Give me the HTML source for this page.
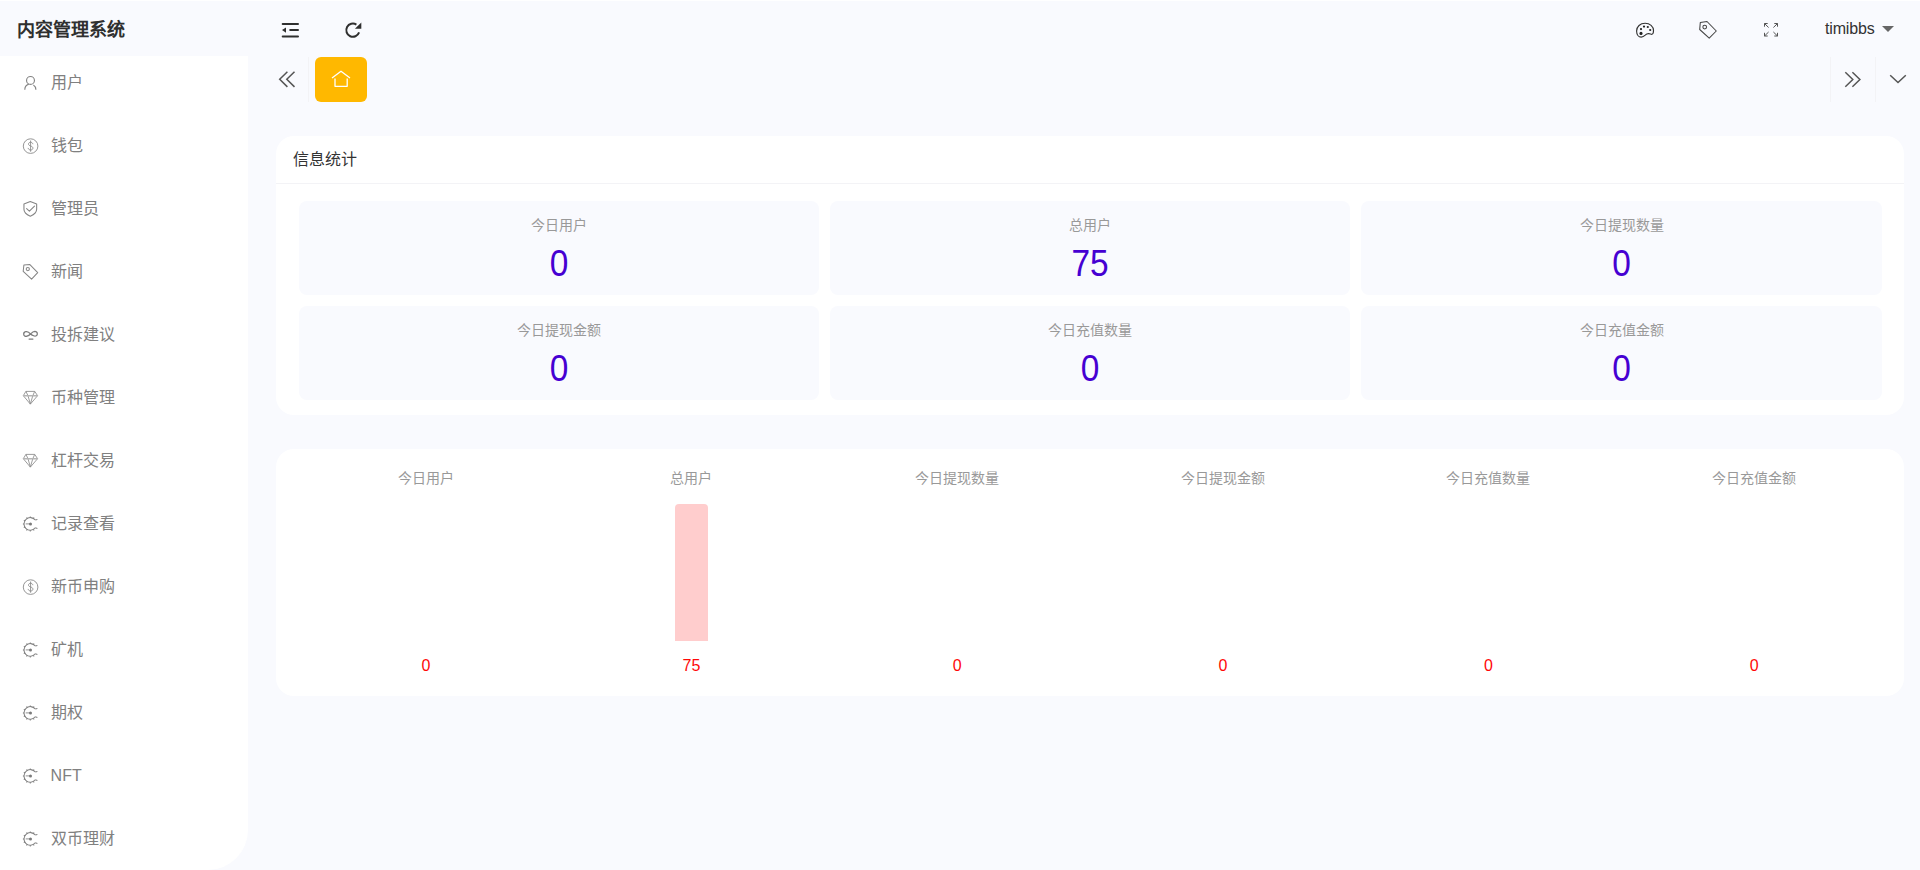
<!DOCTYPE html>
<html lang="zh-CN">
<head>
<meta charset="utf-8">
<title>内容管理系统</title>
<style>
*{box-sizing:border-box;margin:0;padding:0}
html,body{width:1920px;height:870px;overflow:hidden}
body{background:#f9fafe;font-family:"Liberation Sans",sans-serif;color:#333;position:relative}
.a{position:absolute}
svg{position:absolute;overflow:visible}
/* fixed N-em wide CJK runs: identical with real CJK glyphs, keeps extents if glyphs are narrower */
.j2,.j3,.j4,.j6{white-space:nowrap;text-align-last:justify}
.j2{width:2em}.j3{width:3em}.j4{width:4em}.j6{width:6em}
span.j2,span.j3,span.j4,span.j6{display:inline-block;vertical-align:top}
/* header */
.topline{left:0;top:0;width:1920px;height:1px;background:#fff}
.logo{left:17px;top:2px;height:57px;line-height:57px;font-size:18px;font-weight:700;color:#2f2f2f;white-space:nowrap}
.user{left:1825px;top:0;height:56px;line-height:57px;font-size:16px;color:#333;white-space:nowrap;letter-spacing:-0.17px}
/* sidebar */
.side{left:0;top:56px;width:248px;height:814px;background:#fff;border-bottom-right-radius:40px}
.mi{left:50.6px;height:30px;line-height:32px;font-size:16px;color:#808080;white-space:nowrap}
/* tabs */
.sep{width:1px;top:57px;height:45px;background:#f3f3f6}
.tab{left:315px;top:57px;width:52px;height:45px;border-radius:6px;background:#ffb800}
/* cards */
.card{left:276px;width:1628px;background:#fff;border-radius:18px}
.c1{top:136px;height:279px}
.c2{top:449px;height:247px}
.ctitle{left:17px;top:0;height:47px;line-height:47px;font-size:16px;color:#333;white-space:nowrap}
.cline{left:0;top:47px;width:1628px;height:1px;background:#f3f3f6}
.tile{width:520px;height:94px;background:#f9fafe;border-radius:8px;text-align:center}
.tile .l{left:0;right:0;top:13px;height:22px;line-height:22px;font-size:14px;color:#999}
.tile .n{left:0;right:0;top:40px;height:46px;line-height:46px;font-size:34.5px;color:#4600d2;transform:scale(.97,1.055);transform-origin:50% 76%}
.col{top:0;width:265.67px;height:247px;text-align:center}
.col .l{left:0;right:0;top:18px;height:22px;line-height:22px;font-size:14px;color:#999}
.col .n{left:0;right:0;top:206px;height:22px;line-height:22px;font-size:16px;color:#ff0808}
.bar{left:116.3px;top:55px;width:33px;height:137px;background:#ffcdcd;border-radius:4px 4px 0 0}
</style>
</head>
<body>

<!-- ===== header ===== -->
<div class="a topline"></div>
<div class="a logo j6">内容管理系统</div>
<div class="a user">timibbs</div>

<!-- ===== sidebar ===== -->
<div class="a side"></div>
<div class="a mi j2" style="top:67px">用户</div>
<div class="a mi j2" style="top:130px">钱包</div>
<div class="a mi j3" style="top:193px">管理员</div>
<div class="a mi j2" style="top:256px">新闻</div>
<div class="a mi j4" style="top:319px">投拆建议</div>
<div class="a mi j4" style="top:382px">币种管理</div>
<div class="a mi j4" style="top:445px">杠杆交易</div>
<div class="a mi j4" style="top:508px">记录查看</div>
<div class="a mi j4" style="top:571px">新币申购</div>
<div class="a mi j2" style="top:634px">矿机</div>
<div class="a mi j2" style="top:697px">期权</div>
<div class="a mi" style="top:760px">NFT</div>
<div class="a mi j4" style="top:823px">双币理财</div>

<!-- ===== tab bar ===== -->
<div class="a sep" style="left:308px"></div>
<div class="a tab"></div>
<div class="a sep" style="left:1830px"></div>
<div class="a sep" style="left:1875px"></div>

<!-- ===== card 1 : stats ===== -->
<div class="a card c1">
  <div class="a ctitle j4">信息统计</div>
  <div class="a cline"></div>
  <div class="a tile" style="left:23px;top:65px"><div class="a l"><span class="j4">今日用户</span></div><div class="a n">0</div></div>
  <div class="a tile" style="left:554px;top:65px"><div class="a l"><span class="j3">总用户</span></div><div class="a n">75</div></div>
  <div class="a tile" style="left:1085px;top:65px;width:521px"><div class="a l"><span class="j6">今日提现数量</span></div><div class="a n">0</div></div>
  <div class="a tile" style="left:23px;top:170px"><div class="a l"><span class="j6">今日提现金额</span></div><div class="a n">0</div></div>
  <div class="a tile" style="left:554px;top:170px"><div class="a l"><span class="j6">今日充值数量</span></div><div class="a n">0</div></div>
  <div class="a tile" style="left:1085px;top:170px;width:521px"><div class="a l"><span class="j6">今日充值金额</span></div><div class="a n">0</div></div>
</div>

<!-- ===== card 2 : bar chart ===== -->
<div class="a card c2">
  <div class="a col" style="left:17px"><div class="a l"><span class="j4">今日用户</span></div><div class="a n">0</div></div>
  <div class="a col" style="left:282.67px"><div class="a l"><span class="j3">总用户</span></div><div class="a bar"></div><div class="a n">75</div></div>
  <div class="a col" style="left:548.33px"><div class="a l"><span class="j6">今日提现数量</span></div><div class="a n">0</div></div>
  <div class="a col" style="left:814px"><div class="a l"><span class="j6">今日提现金额</span></div><div class="a n">0</div></div>
  <div class="a col" style="left:1079.67px"><div class="a l"><span class="j6">今日充值数量</span></div><div class="a n">0</div></div>
  <div class="a col" style="left:1345.33px"><div class="a l"><span class="j6">今日充值金额</span></div><div class="a n">0</div></div>
</div>


<!-- ===== icon symbols ===== -->
<svg width="0" height="0" style="left:0;top:0">
  <defs>
    <symbol id="i-user" viewBox="0 0 20 20">
      <g fill="none" stroke="#858585" stroke-width="1.15">
        <circle cx="10" cy="7.9" r="3.95"/>
        <path d="M4.3 17.3C4.3 14.3 6 12.3 8.3 11.6M15.4 17.3C15.4 15.1 14.5 13.4 12.9 12.4"/>
      </g>
    </symbol>
    <symbol id="i-dollar" viewBox="0 0 20 20">
      <circle cx="10.1" cy="10.6" r="7.3" fill="none" stroke="#8f8f8f" stroke-width=".95"/>
      <g fill="none" stroke="#8a8a8a" stroke-width=".9" stroke-linecap="round">
        <path d="M12.3 8.3C12.1 7.3 11.2 6.8 10.1 6.8C8.9 6.8 8 7.5 8 8.5C8 9.6 8.9 10.1 10.1 10.5C11.4 10.9 12.4 11.4 12.4 12.7C12.4 13.8 11.4 14.5 10.1 14.5C8.8 14.5 7.9 13.8 7.7 12.8"/>
        <path d="M10.1 5.4V15.8"/>
      </g>
    </symbol>
    <symbol id="i-shield" viewBox="0 0 20 20">
      <g fill="none" stroke="#858585" stroke-width="1.1" stroke-linejoin="round" stroke-linecap="round">
        <path d="M9.8 3.05L16.15 5.4V10.8C16.15 14.1 13.3 16.3 9.8 17.75C6.3 16.3 3.45 14.1 3.45 10.8V5.4Z"/>
        <path d="M6.1 10.2L8.9 12.7L14 7.7"/>
      </g>
    </symbol>
    <symbol id="i-tag" viewBox="0 0 20 20">
      <g fill="none" stroke="#858585" stroke-width="1.05" stroke-linejoin="round">
        <path d="M3.4 3.5L9.4 3.1L17.2 11.1L11.1 17.7L2.7 9.8Z"/>
        <circle cx="7.3" cy="7.6" r="1.6"/>
      </g>
    </symbol>
    <symbol id="i-inf" viewBox="0 0 20 20">
      <g fill="none" stroke="#7c7c7c" stroke-width="1.25" stroke-linecap="round">
        <path d="M10 9.5C8.6 7.8 6.9 6.8 5.3 7.2C3.7 7.6 3 9.1 3.3 10.3C3.6 11.6 5 12.2 6.5 11.7C8 11.2 9 10.5 10 9.5C11 8.5 12.4 7 14.3 6.9C16 6.9 17 8.2 16.8 9.6C16.6 11 15.3 11.9 13.8 11.5C12.3 11.1 11 10.5 10 9.5Z"/>
        <path d="M8.6 14.6H12.4"/>
      </g>
    </symbol>
    <symbol id="i-diamond" viewBox="0 0 20 20">
      <g fill="none" stroke="#8a8a8a" stroke-width=".85" stroke-linejoin="round">
        <path d="M5.4 3.9H14.2L17.1 8.2L9.85 16.6L2.8 8.2Z"/>
        <path d="M5.4 3.9L7.5 8.2L9.85 16.6L12.3 8.2L14.2 3.9"/>
      </g>
      <path d="M2.9 8.2H17" stroke="#b5b5b5" stroke-width="1.5" fill="none"/>
    </symbol>
    <symbol id="i-gear" viewBox="0 0 20 20">
      <g fill="none" stroke="#808080" stroke-width="1.05">
        <path d="M14.76 6.52A6.3 6.3 0 1 0 14.76 14.28"/>
        <path d="M9.8 4.1V2.9M9.8 16.7V17.9M3.5 10.4H2.4M6.65 4.94L6.05 3.9M12.95 4.94L13.55 3.9M6.65 15.86L6.05 16.9M12.95 15.86L13.55 16.9M4.34 7.25L3.3 6.65M4.34 13.55L3.3 14.15M14.76 6.52L16.9 5.9M14.76 14.28L16.9 14.9"/>
      </g>
      <path d="M5.2 10.4H9.8" stroke="#a9a9a9" stroke-width="1.4" fill="none"/>
      <circle cx="10" cy="10.4" r="1.5" fill="#7a7a7a"/>
    </symbol>
  </defs>
</svg>

<!-- ===== sidebar icons ===== -->
<svg width="21" height="21" style="left:20px;top:72px"><use href="#i-user" x=".5" y=".5" width="20" height="20"/></svg>
<svg width="21" height="21" style="left:20px;top:135px"><use href="#i-dollar" x=".5" y=".5" width="20" height="20"/></svg>
<svg width="21" height="21" style="left:20px;top:198px"><use href="#i-shield" x=".5" y=".5" width="20" height="20"/></svg>
<svg width="21" height="21" style="left:20px;top:261px"><use href="#i-tag" x=".5" y=".5" width="20" height="20"/></svg>
<svg width="21" height="21" style="left:20px;top:324px"><use href="#i-inf" x=".5" y=".5" width="20" height="20"/></svg>
<svg width="21" height="21" style="left:20px;top:387px"><use href="#i-diamond" x=".5" y=".5" width="20" height="20"/></svg>
<svg width="21" height="21" style="left:20px;top:450px"><use href="#i-diamond" x=".5" y=".5" width="20" height="20"/></svg>
<svg width="21" height="21" style="left:20px;top:513px"><use href="#i-gear" x=".5" y=".5" width="20" height="20"/></svg>
<svg width="21" height="21" style="left:20px;top:576px"><use href="#i-dollar" x=".5" y=".5" width="20" height="20"/></svg>
<svg width="21" height="21" style="left:20px;top:639px"><use href="#i-gear" x=".5" y=".5" width="20" height="20"/></svg>
<svg width="21" height="21" style="left:20px;top:702px"><use href="#i-gear" x=".5" y=".5" width="20" height="20"/></svg>
<svg width="21" height="21" style="left:20px;top:765px"><use href="#i-gear" x=".5" y=".5" width="20" height="20"/></svg>
<svg width="21" height="21" style="left:20px;top:828px"><use href="#i-gear" x=".5" y=".5" width="20" height="20"/></svg>

<!-- ===== header icons (drawn in page coordinates) ===== -->
<svg width="120" height="40" viewBox="270 10 120 40" style="left:270px;top:10px">
  <!-- menu fold -->
  <g fill="#2f2f2f">
    <rect x="281.7" y="22.9" width="17.3" height="2.05" rx="1"/>
    <rect x="289.2" y="29" width="9.8" height="2.05" rx="1"/>
    <rect x="281.7" y="35.4" width="17.3" height="2.1" rx="1"/>
    <path d="M282 30.1L286 27.6V32.7Z"/>
  </g>
  <!-- refresh -->
  <path d="M356.4 24.6A6.6 6.6 0 1 0 359.1 32.46" fill="none" stroke="#2f2f2f" stroke-width="2"/>
  <path d="M361.3 22.6V28.8H354.9Z" fill="#2f2f2f"/>
</svg>
<svg width="290" height="40" viewBox="1630 10 290 40" style="left:1630px;top:10px">
  <!-- palette -->
  <path d="M1653.5 30.6C1653.5 26.4 1649.9 23.3 1645.1 23.3C1640.2 23.3 1636.6 26.6 1636.6 31C1636.6 34.6 1638.6 37.1 1641.2 37.1C1643.2 37.1 1644.2 36.2 1645.2 35.2C1646.3 34 1647.4 33.5 1648.8 33.6C1650.2 33.7 1651 34.5 1652 34.3C1653.1 34.1 1653.5 32.6 1653.5 30.6Z" fill="none" stroke="#333" stroke-width="1.15"/>
  <g fill="#222">
    <circle cx="1641" cy="33.4" r="1.55"/>
    <circle cx="1641" cy="29.1" r="1.1"/>
    <circle cx="1644" cy="26.6" r="1.1"/>
    <circle cx="1647.8" cy="27" r="1.1"/>
    <circle cx="1650.2" cy="30" r="1.1"/>
  </g>
  <!-- tag -->
  <g fill="none" stroke="#444" stroke-width="1.05" stroke-linejoin="round">
    <path d="M1700.3 22.5L1707 21.5L1716.3 31L1709.2 38.1L1699.7 29.5Z"/>
    <circle cx="1704.7" cy="27.1" r="1.85"/>
  </g>
  <!-- fullscreen -->
  <g fill="none" stroke="#555" stroke-width="1">
    <path d="M1768.6 27.5L1764.5 23.5M1764.5 26.7V23.5H1767.7"/>
    <path d="M1773.4 27.5L1777.5 23.5M1777.5 26.7V23.5H1774.3"/>
    <path d="M1768.6 32L1764.5 36M1764.5 32.8V36H1767.7"/>
    <path d="M1773.4 32L1777.5 36M1777.5 32.8V36H1774.3"/>
  </g>
  <!-- caret -->
  <path d="M1882 26H1894L1888 32.1Z" fill="#666"/>
</svg>

<!-- ===== tab bar icons ===== -->
<svg width="100" height="46" viewBox="270 57 100 46" style="left:270px;top:57px">
  <g fill="none" stroke="#555" stroke-width="1.5">
    <path d="M287.4 71.7L279.7 79.3L287.4 86.9"/>
    <path d="M294.5 71.7L286.8 79.3L294.5 86.9"/>
  </g>
  <g fill="none" stroke="#fff" stroke-width="1.3" stroke-linejoin="round">
    <path d="M332 77.9L341 71.2L350 77.9"/>
    <path d="M335 78.6V86.3H347.2V78.6"/>
  </g>
</svg>
<svg width="80" height="46" viewBox="1840 57 80 46" style="left:1840px;top:57px">
  <g fill="none" stroke="#555" stroke-width="1.5">
    <path d="M1845.3 72.2L1852.8 79.5L1845.3 86.7"/>
    <path d="M1852.4 72.2L1859.9 79.5L1852.4 86.7"/>
    <path d="M1890.2 75.2L1898 82.5L1905.8 75.2"/>
  </g>
</svg>

</body>
</html>
